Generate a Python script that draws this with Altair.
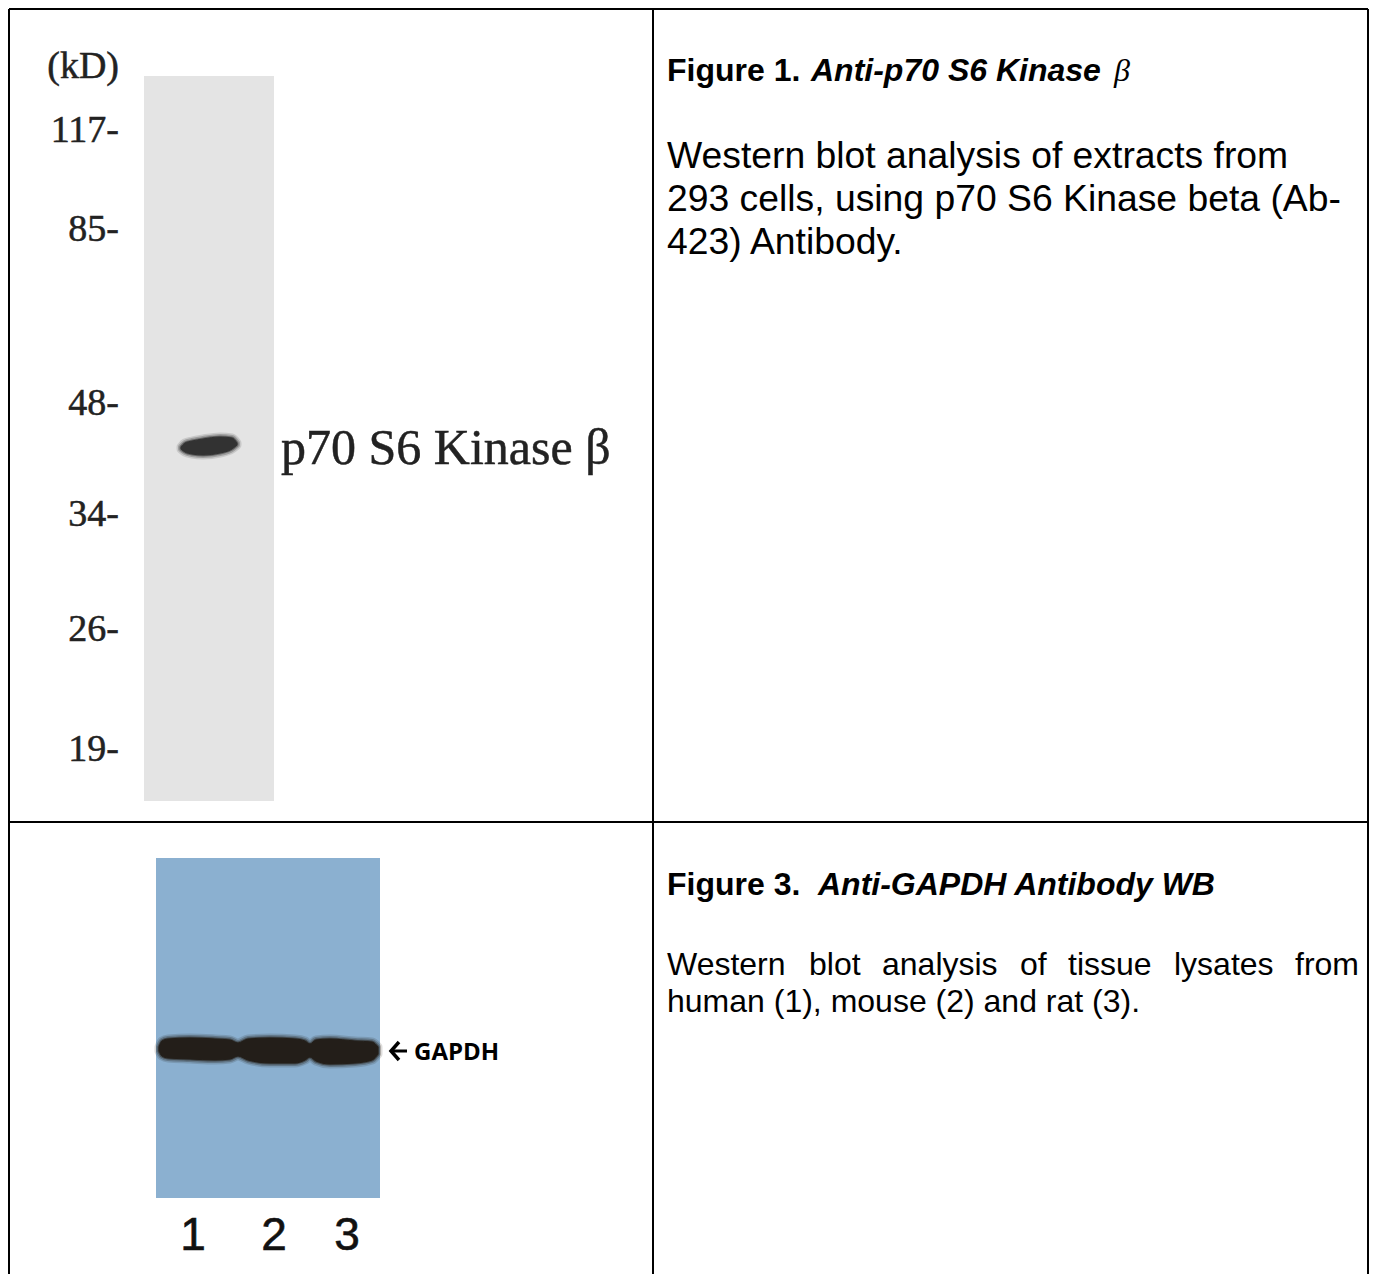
import altair as alt
import pandas as pd

PAGE_W, PAGE_H, M = 1377, 1282, 8
# The drawable part of the page: page margin on each side
RIGHT, BOTTOM = PAGE_W - M, PAGE_H - M
X = alt.X("x:Q", axis=None, scale=alt.Scale(domain=[M, RIGHT], nice=False, zero=False))
Y = alt.Y("y:Q", axis=None, scale=alt.Scale(domain=[BOTTOM, M], nice=False, zero=False))

# table rules: (x, y, x2, y2)
rules_x1 = [9, 9, 9, 653, 1368]
rules_y1 = [9, 822, 9, 9, 9]
rules_x2 = [1368, 1368, 9, 653, 1368]
rules_y2 = [9, 822, 1274, 1274, 1274]

# gel panels
panel_x1 = [144, 156]
panel_x2 = [274, 380]
panel_y1 = [76, 858]
panel_y2 = [801, 1198]
panel_col = ["#e4e4e4", "#8bb0d0"]

# molecular-weight ladder
mw_labels = ["(kD)", "117-", "85-", "48-", "34-", "26-", "19-"]
mw_y = [78, 142, 241, 415, 526, 641, 761]

# band in panel 1
b1_x = [181, 185, 192, 203, 220, 232, 237]
b1_top = [447, 443, 441, 439, 437, 438, 443]
b1_bot = [449, 452, 454, 455, 453, 449, 445]

# bands in panel 2
b2_x = [159, 162, 168, 190, 215, 230, 238, 248, 270, 295, 305, 310, 316, 330, 355, 372, 378]
b2_top = [1047, 1041, 1039, 1038, 1039, 1040, 1043, 1039, 1038, 1039, 1041, 1044, 1040, 1039, 1041, 1042, 1047]
b2_bot = [1051, 1056, 1058, 1059, 1060, 1059, 1056, 1060, 1063, 1063, 1060, 1057, 1061, 1064, 1063, 1060, 1054]

# arrow beside GAPDH
arrow_x = [399, 391, 399]
arrow_y = [1042, 1051, 1060]
shaft_x = [392, 407]
shaft_y = [1051, 1051]

lane_labels = ["1", "2", "3"]
lane_x = [193, 274, 347]

fig3_words = ["Western", "blot", "analysis", "of", "tissue", "lysates", "from"]
fig3_word_x = [667, 809, 882, 1020, 1068, 1174, 1295]


def texts(rows, **style):
    df = pd.DataFrame(rows, columns=["t", "x", "y"])
    style.setdefault("baseline", "alphabetic")
    style.setdefault("align", "left")
    return alt.Chart(df).mark_text(**style).encode(x=X, y=Y, text="t:N")


def band(xs, top, bot, color):
    df = pd.DataFrame({"x": xs, "y": top, "y2": bot})
    base = alt.Chart(df)
    enc = dict(x=X, y=Y, y2="y2:Q")
    out = []
    for sw, op in [(9, 0.14), (6, 0.25), (3, 0.45), (1, 0.8)]:
        out.append(base.mark_area(color=color, stroke=color, strokeWidth=sw, opacity=op,
                                  strokeJoin="round", interpolate="monotone").encode(**enc))
    return out


layers = []
panels = pd.DataFrame({"x": panel_x1, "x2": panel_x2, "y": panel_y1, "y2": panel_y2, "c": panel_col})
layers.append(alt.Chart(panels).mark_rect().encode(x=X, x2="x2:Q", y=Y, y2="y2:Q",
                                                    color=alt.Color("c:N", scale=None)))
layers += band(b1_x, b1_top, b1_bot, "#262626")
layers += band(b2_x, b2_top, b2_bot, "#1c140c")

tbl = pd.DataFrame({"x": rules_x1, "x2": rules_x2, "y": rules_y1, "y2": rules_y2})
layers.append(alt.Chart(tbl).mark_rule(color="black", strokeWidth=2).encode(x=X, x2="x2:Q", y=Y, y2="y2:Q"))

SERIF = "Liberation Serif"
SANS = "Liberation Sans"
layers.append(texts([(t, 119, y) for t, y in zip(mw_labels, mw_y)], font=SERIF, fontSize=38,
                    align="right", color="#222222", stroke="#222222", strokeWidth=0.5))
layers.append(texts([("p70 S6 Kinase β", 281, 464)], font=SERIF, fontSize=50, color="#222222",
                    stroke="#222222", strokeWidth=0.5))
layers.append(texts([(t, x, 1250) for t, x in zip(lane_labels, lane_x)], font=SANS, fontSize=46,
                    align="center", color="#111111", stroke="#111111", strokeWidth=0.6))
layers.append(texts([("GAPDH", 414, 1060)], font="Open Sans", fontSize=24, fontWeight="bold", color="black"))

layers.append(alt.Chart(pd.DataFrame({"x": arrow_x, "y": arrow_y})).mark_line(
    color="black", strokeWidth=3.5, order=False).encode(x=X, y=Y))
layers.append(alt.Chart(pd.DataFrame({"x": shaft_x, "y": shaft_y})).mark_line(
    color="black", strokeWidth=3).encode(x=X, y=Y))

layers.append(texts([("Figure 1.", 667, 81), ("Figure 3.", 667, 895)], font=SANS, fontSize=32,
                    fontWeight="bold", color="black"))
layers.append(texts([("Anti-p70 S6 Kinase", 811, 81), ("Anti-GAPDH Antibody WB", 818, 895)], font=SANS,
                    fontSize=32, fontWeight="bold", fontStyle="italic", color="black"))
layers.append(texts([("β", 1114, 81)], font=SERIF, fontSize=32, fontStyle="italic", color="black"))
layers.append(texts([("Western blot analysis of extracts from", 667, 168),
                     ("293 cells, using p70 S6 Kinase beta (Ab-", 667, 211),
                     ("423) Antibody.", 667, 254)], font=SANS, fontSize=37.3, color="black"))
layers.append(texts([(w, x, 975) for w, x in zip(fig3_words, fig3_word_x)] +
                    [("human (1), mouse (2) and rat (3).", 667, 1012)], font=SANS, fontSize=32, color="black"))

chart = alt.layer(*layers).properties(
    width=RIGHT - M, height=BOTTOM - M, padding=0, background="white",
    autosize=alt.AutoSizeParams(type="none"),
).configure_view(stroke=None)

chart.save("out.html", embed_options={"renderer": "svg", "actions": False})
